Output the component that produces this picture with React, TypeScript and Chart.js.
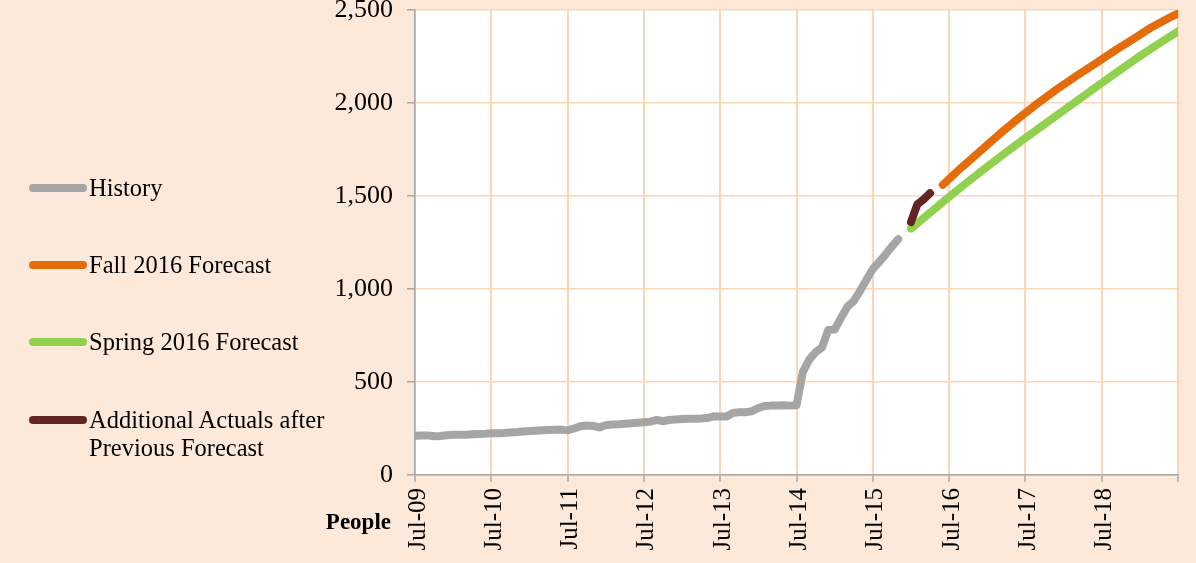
import React, { useEffect, useRef } from "react";
import { Chart, registerables } from "chart.js";

Chart.register(...registerables);

// x positions are months since Jul-09
const tickLabels = ["Jul-09", "Jul-10", "Jul-11", "Jul-12", "Jul-13", "Jul-14", "Jul-15", "Jul-16", "Jul-17", "Jul-18"];

// History: monthly, Jul-09 (month 0) .. Nov-15 (month 76)
const historyValues = [
  211, 212, 213, 208, 210, 214, 216, 217, 216, 219, 221, 222,
  224, 225, 226, 229, 231, 234, 236, 238, 240, 242, 243, 244,
  240, 250, 262, 266, 264, 256, 268, 271, 273, 276, 278, 281,
  284, 287, 296, 289, 296, 299, 301, 302, 303, 304, 306, 316,
  314, 314, 333, 338, 338, 343, 360, 371, 373, 374, 375, 373,
  375, 555, 620, 660, 685, 780, 782, 845, 905, 935, 990, 1050,
  1108, 1145, 1185, 1228, 1268,
];

const additionalMonths = [78, 79, 80, 81];
const additionalValues = [1360, 1455, 1482, 1515];

const springMonths = [78, 81, 84, 87, 90, 93, 96, 99, 102, 105, 108, 111, 114, 117, 120];
const springValues = [1325, 1410, 1495, 1578, 1658, 1736, 1812, 1886, 1960, 2034, 2108, 2180, 2252, 2320, 2385];

const fallMonths = [83, 86, 89, 92, 95, 98, 101, 104, 107, 110, 113, 116, 119, 120];
const fallValues = [1560, 1655, 1745, 1835, 1920, 2000, 2075, 2145, 2212, 2280, 2345, 2410, 2465, 2480];

const seriesNames = ["History", "Fall 2016 Forecast", "Spring 2016 Forecast", "Additional Actuals after Previous Forecast"];
const seriesColors = ["#A5A5A5", "#E46C0A", "#92D050", "#632523"];

const SERIF = "'Liberation Serif', 'Times New Roman', serif";
const AXIS_GRAY = "#A6A6A6";
const GRID = "#FCD5B5";
const LINE_W = 8;

const plotBg = {
  id: "plotBg",
  beforeDraw(chart: any) {
    const { ctx, chartArea } = chart;
    if (!chartArea) return;
    ctx.save();
    ctx.fillStyle = "#FFFFFF";
    ctx.fillRect(chartArea.left, chartArea.top, chartArea.right - chartArea.left, chartArea.bottom - chartArea.top);
    ctx.restore();
  },
};

function toPoints(xs: number[], ys: number[]) {
  return ys.map((y, i) => ({ x: xs[i], y }));
}

function lineStyle(color: string, order: number) {
  return {
    borderColor: color,
    backgroundColor: color,
    borderWidth: LINE_W,
    borderCapStyle: "round",
    borderJoinStyle: "round",
    pointRadius: 0,
    pointHoverRadius: 0,
    tension: 0,
    fill: false,
    order,
  } as any;
}

export default function App() {
  const canvasRef = useRef<HTMLCanvasElement | null>(null);

  useEffect(() => {
    if (!canvasRef.current) return;
    const chart = new Chart(canvasRef.current, {
      type: "line",
      data: {
        datasets: [
          { label: seriesNames[0], data: historyValues.map((y, i) => ({ x: i, y })), ...lineStyle(seriesColors[0], 4) },
          { label: seriesNames[1], data: toPoints(fallMonths, fallValues), ...lineStyle(seriesColors[1], 3) },
          { label: seriesNames[2], data: toPoints(springMonths, springValues), ...lineStyle(seriesColors[2], 2) },
          { label: seriesNames[3], data: toPoints(additionalMonths, additionalValues), ...lineStyle(seriesColors[3], 1) },
        ],
      },
      options: {
        animation: false,
        responsive: false,
        devicePixelRatio: 1,
        layout: { padding: { left: 0, right: 18, top: 10, bottom: 0 } },
        plugins: { legend: { display: false }, tooltip: { enabled: false } },
        scales: {
          x: {
            type: "linear",
            min: 0,
            max: 120,
            ticks: {
              stepSize: 12,
              autoSkip: false,
              minRotation: 90,
              maxRotation: 90,
              padding: 6,
              labelOffset: 3,
              color: "#000000",
              font: { family: SERIF, size: 25 },
              callback: (v: any) => tickLabels[Math.round(Number(v) / 12)] ?? "",
            },
            grid: { color: GRID, lineWidth: 2, tickLength: 7, tickColor: AXIS_GRAY, tickWidth: 1.5 },
            border: { color: AXIS_GRAY, width: 1.5 },
            afterFit: (s: any) => {
              s.height = 88;
              s.paddingLeft = 0;
              s.paddingRight = 0;
            },
          },
          y: {
            type: "linear",
            min: 0,
            max: 2500,
            ticks: {
              stepSize: 500,
              padding: 14,
              color: "#000000",
              font: { family: SERIF, size: 26 },
              callback: (v: any) => Number(v).toLocaleString("en-US"),
            },
            grid: { color: GRID, lineWidth: 1.5, tickLength: 8, tickColor: AXIS_GRAY, tickWidth: 1.5 },
            border: { color: AXIS_GRAY, width: 1.5 },
            afterFit: (s: any) => {
              s.width = 415;
              s.paddingTop = 0;
              s.paddingBottom = 0;
            },
          },
        },
      } as any,
      plugins: [plotBg],
    });
    return () => chart.destroy();
  }, []);

  const legendRows = [
    { idx: 0, cy: 188, lines: ["History"] },
    { idx: 1, cy: 265, lines: ["Fall 2016 Forecast"] },
    { idx: 2, cy: 342, lines: ["Spring 2016 Forecast"] },
    { idx: 3, cy: 420, lines: ["Additional Actuals after", "Previous Forecast"] },
  ];

  return (
    <div style={{ position: "fixed", left: 0, top: 0, width: 1196, height: 563, background: "#FDE9D9", overflow: "hidden" }}>
      <canvas ref={canvasRef} width={1196} height={563} style={{ position: "absolute", left: 0, top: 0, width: 1196, height: 563 }} />
      {legendRows.map((r) => (
        <React.Fragment key={r.idx}>
          <div
            style={{
              position: "absolute",
              left: 29,
              top: r.cy - 4,
              width: 58,
              height: 8,
              borderRadius: 4,
              background: seriesColors[r.idx],
            }}
          />
          <div
            style={{
              position: "absolute",
              left: 89,
              top: r.cy - 14,
              fontFamily: SERIF,
              fontSize: 24.5,
              lineHeight: "28px",
              color: "#000",
              whiteSpace: "nowrap",
            }}
          >
            {r.lines.map((t, i) => (
              <div key={i}>{t}</div>
            ))}
          </div>
        </React.Fragment>
      ))}
      <div
        style={{
          position: "absolute",
          right: 1196 - 391,
          top: 508,
          fontFamily: SERIF,
          fontSize: 23,
          fontWeight: "bold",
          lineHeight: "28px",
          color: "#000",
        }}
      >
        People
      </div>
    </div>
  );
}
